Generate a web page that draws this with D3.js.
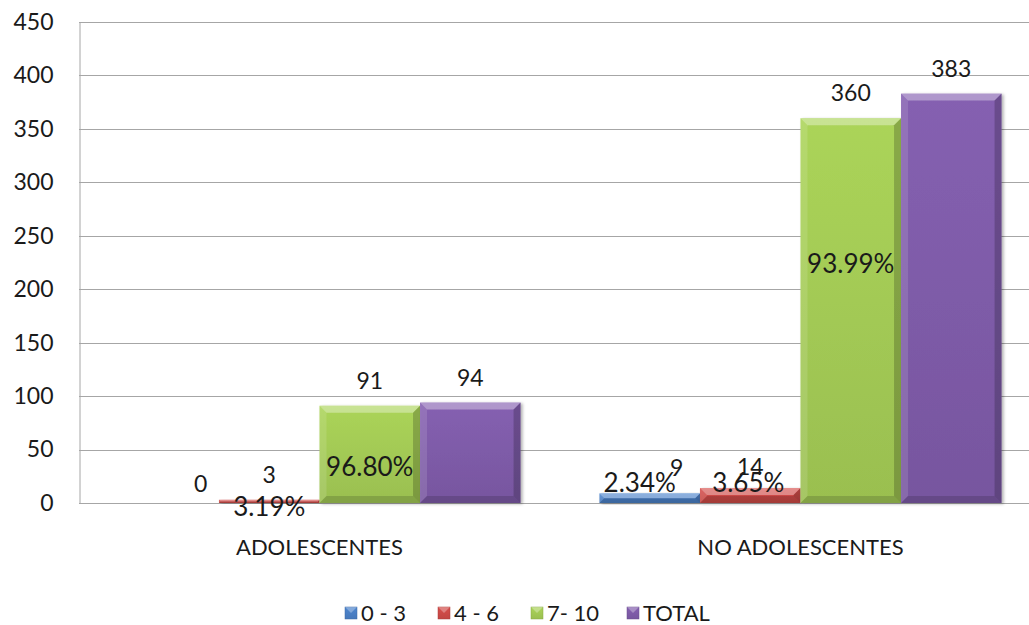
<!DOCTYPE html>
<html>
<head>
<meta charset="utf-8">
<script src="https://cdn.jsdelivr.net/npm/d3@7"></script>
<style>
  body { margin: 0; background: #fff; }
  svg text { font-family: Lato, "Open Sans", sans-serif; fill: #1a1a1a; }
</style>
</head>
<body>
<div id="chart"></div>
<script>
const width = 1029;
const height = 625;

// data
const categories = ["ADOLESCENTES", "NO ADOLESCENTES"];
const series = ["0 - 3", "4 - 6", "7- 10", "TOTAL"];
const values = [
  [0, 3, 91, 94],
  [9, 14, 360, 383]
];
const percents = [
  [null, "3.19%", "96.80%", null],
  ["2.34%", "3.65%", "93.99%", null]
];
const yTicks = [0, 50, 100, 150, 200, 250, 300, 350, 400, 450];
const colors = ["#4a7fc4", "#cc4a47", "#a2c954", "#7e5ba8"];

const svg = d3.select("#chart")
  .append("svg")
  .attr("width", width)
  .attr("height", height);

const defs = svg.append("defs");
colors.forEach(function (c, i) {
  const g = defs.append("linearGradient")
    .attr("id", "grad" + i)
    .attr("x1", 0).attr("y1", 0).attr("x2", 0).attr("y2", 1);
  g.append("stop").attr("offset", "0%").attr("stop-color", d3.color(c).brighter(0.15));
  g.append("stop").attr("offset", "100%").attr("stop-color", d3.color(c).darker(0.15));
});
const shadow = defs.append("filter").attr("id", "shadow")
  .attr("x", "-10%").attr("y", "-10%").attr("width", "130%").attr("height", "130%");
shadow.append("feDropShadow")
  .attr("dx", 2).attr("dy", 1).attr("stdDeviation", 1.5)
  .attr("flood-color", "#000").attr("flood-opacity", 0.3);

const yScale = d3.scaleLinear()
  .domain([0, 450])
  .range([503, 22]);

const xScale = d3.scaleBand()
  .domain(categories)
  .range([79, 1041])
  .padding(0);

const xSub = d3.scaleBand()
  .domain(series)
  .range([xScale.bandwidth() * 0.082, xScale.bandwidth() * 0.918]);

// grid
svg.append("g")
  .selectAll("line")
  .data(yTicks)
  .enter()
  .append("line")
  .attr("x1", 79)
  .attr("x2", width)
  .attr("y1", d => Math.round(yScale(d)) + 0.5)
  .attr("y2", d => Math.round(yScale(d)) + 0.5)
  .attr("stroke", "#a6a6a6")
  .attr("stroke-width", 1);

// y axis
const yAxis = d3.axisLeft(yScale).tickValues(yTicks).tickSize(0).tickPadding(26);
const yg = svg.append("g")
  .attr("transform", "translate(79.5,0)")
  .call(yAxis);
yg.select(".domain").attr("stroke", "#a6a6a6");
yg.selectAll("text").style("font-size", "23px").attr("fill", "#1a1a1a");

// bars
const bevel = 7;
const groups = svg.selectAll(".grp")
  .data(categories)
  .enter()
  .append("g")
  .attr("class", "grp")
  .attr("transform", d => "translate(" + xScale(d) + ",0)");

groups.each(function (cat, ci) {
  const g = d3.select(this);
  series.forEach(function (s, si) {
    const v = values[ci][si];
    if (v <= 0) return;
    const x0 = xSub(s), w = xSub.bandwidth();
    const y0 = yScale(v), y1 = yScale(0);
    const h = y1 - y0;
    const b = Math.min(bevel, h / 2);
    const bar = g.append("g").attr("filter", "url(#shadow)");
    bar.append("rect")
      .attr("x", x0).attr("y", y0).attr("width", w).attr("height", h)
      .attr("fill", "url(#grad" + si + ")");
    const x1 = x0 + w;
    // top light
    bar.append("polygon")
      .attr("points", [[x0, y0], [x1, y0], [x1 - b, y0 + b], [x0 + b, y0 + b]].join(" "))
      .attr("fill", "#fff").attr("opacity", 0.35);
    // left light
    bar.append("polygon")
      .attr("points", [[x0, y0], [x0 + b, y0 + b], [x0 + b, y1 - b], [x0, y1]].join(" "))
      .attr("fill", "#fff").attr("opacity", 0.12);
    // right dark
    bar.append("polygon")
      .attr("points", [[x1, y0], [x1 - b, y0 + b], [x1 - b, y1 - b], [x1, y1]].join(" "))
      .attr("fill", "#000").attr("opacity", 0.2);
    // bottom dark
    bar.append("polygon")
      .attr("points", [[x0, y1], [x0 + b, y1 - b], [x1 - b, y1 - b], [x1, y1]].join(" "))
      .attr("fill", "#000").attr("opacity", 0.15);
  });
});

// value labels (small nudges where Excel overlapped them)
const valueNudge = [[32, 6], [0, 0], [0, 0], [0, 0], [27, 0], [0, 4], [0, 0], [0, 0]];
groups.each(function (cat, ci) {
  const g = d3.select(this);
  series.forEach(function (s, si) {
    const v = values[ci][si];
    const n = valueNudge[ci * 4 + si];
    g.append("text")
      .attr("x", xSub(s) + xSub.bandwidth() / 2 + n[0])
      .attr("y", yScale(v) - 17 + n[1])
      .attr("text-anchor", "middle")
      .style("font-size", "23px")
      .text(v);
  });
});

// percent labels, offset from the bar top
const pctPos = [[0, 0], [0, 16], [0, 70], [0, 0], [-10, -1], [-2, 4], [0, 155], [0, 0]];
groups.each(function (cat, ci) {
  const g = d3.select(this);
  series.forEach(function (s, si) {
    const p = percents[ci][si];
    if (!p) return;
    const n = pctPos[ci * 4 + si];
    g.append("text")
      .attr("x", xSub(s) + xSub.bandwidth() / 2 + n[0])
      .attr("y", yScale(values[ci][si]) + n[1])
      .attr("text-anchor", "middle")
      .style("font-size", "26px")
      .text(p);
  });
});

// x labels
svg.append("g")
  .selectAll("text")
  .data(categories)
  .enter()
  .append("text")
  .attr("x", d => xScale(d) + xScale.bandwidth() / 2)
  .attr("y", 555)
  .attr("text-anchor", "middle")
  .style("font-size", "22px")
  .text(d => d);

// legend
const legendX = [345, 438, 531, 627];
const legend = svg.append("g");
series.forEach(function (s, i) {
  const lg = legend.append("g").attr("transform", "translate(" + legendX[i] + ",607)");
  lg.append("rect")
    .attr("width", 12).attr("height", 12)
    .attr("fill", "url(#grad" + i + ")")
    .attr("stroke", d3.color(colors[i]).darker(0.5)).attr("stroke-width", 0.5);
  lg.append("polygon")
    .attr("points", "0,0 12,0 6,6")
    .attr("fill", "#fff").attr("opacity", 0.3);
  lg.append("text")
    .attr("x", 16)
    .attr("y", 14)
    .style("font-size", "22px")
    .text(s);
});
</script>
</body>
</html>
